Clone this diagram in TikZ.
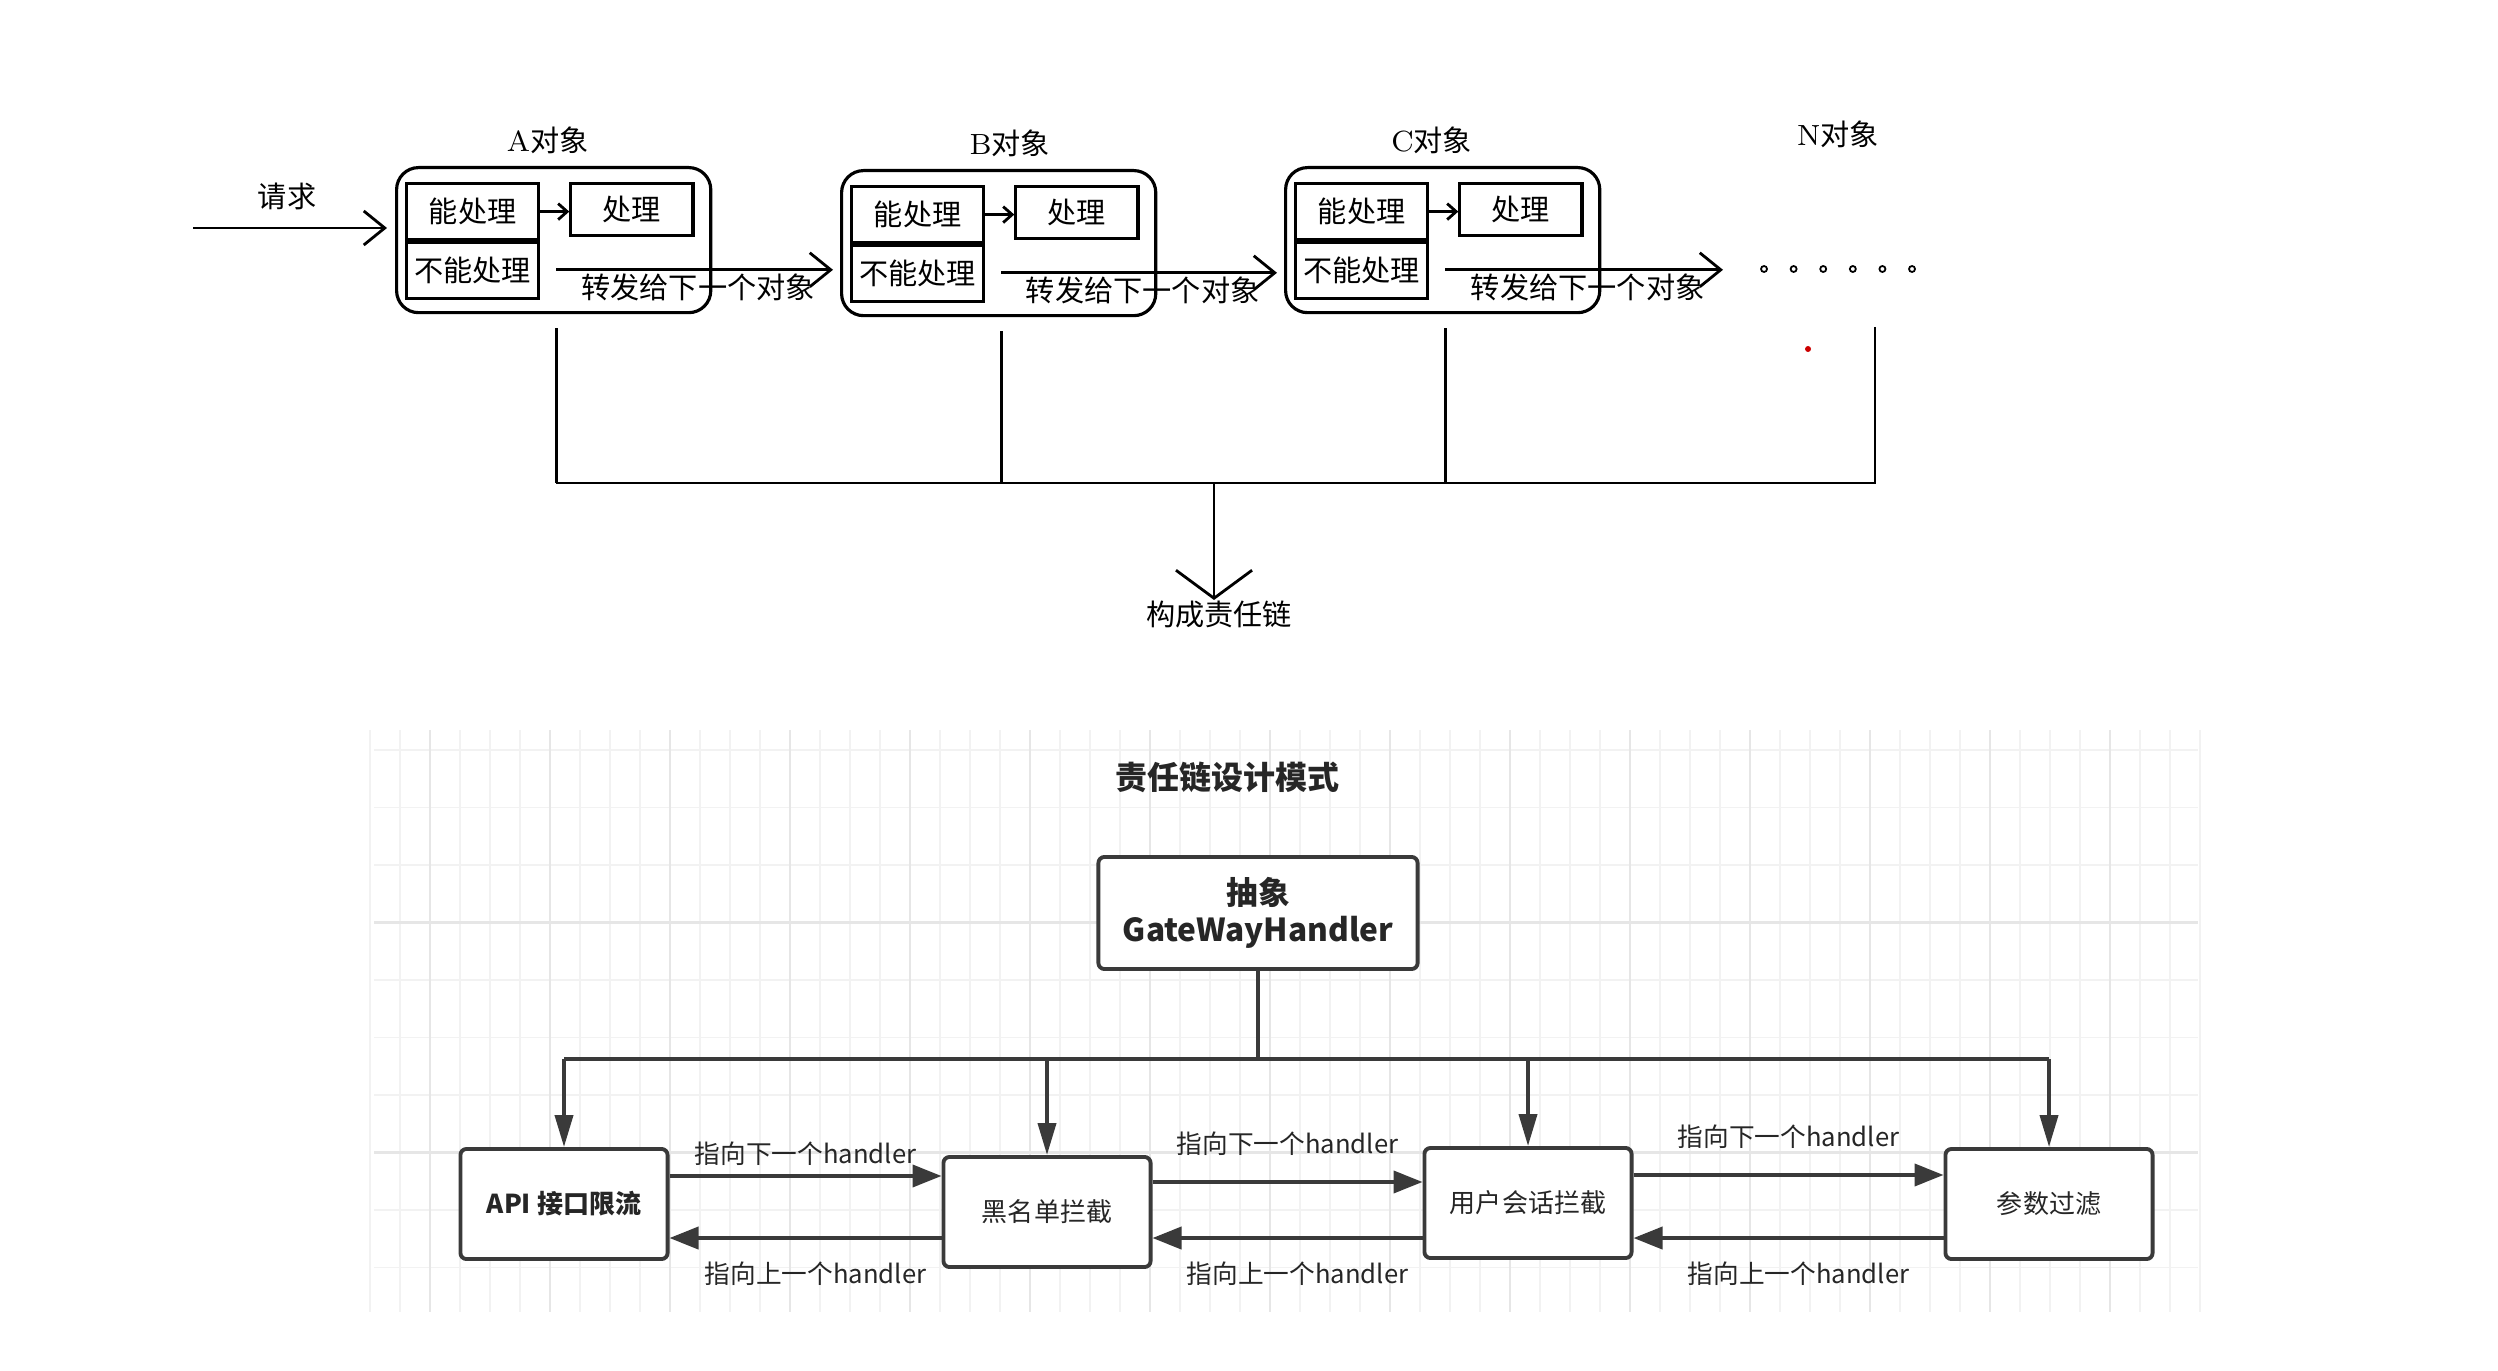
\documentclass[tikz,border=0pt]{standalone}
\usepackage{fontspec}
\newfontfamily\cjk{Noto Sans CJK SC}
\usetikzlibrary{arrows.meta,positioning}
\definecolor{lineGray}{HTML}{3A3A3A}
\definecolor{textGray}{HTML}{262626}
\definecolor{gridMinorColor}{HTML}{F2F2F2}
\definecolor{gridMajorColor}{HTML}{E6E6E6}
\newcommand{\topfont}{\cjk\fontsize{8.3}{10}\selectfont}
\newcommand{\botfont}{\cjk\fontsize{7.4}{9}\selectfont}
\newcommand{\linkfont}{\cjk\fontsize{7.3}{9}\selectfont}

\begin{document}
\begin{tikzpicture}
[x=0.01cm,y=-0.01cm,
  lineDecorate/.style={-,line width=0.8pt},
  arrowDecorate/.style={-{Straight Barb[length=0.21cm,width=0.34cm]},line width=0.8pt},
  smallArrow/.style={-{Straight Barb[length=0.09cm,width=0.16cm]},line width=0.8pt},
  bigArrow/.style={-{Straight Barb[length=0.28cm,width=0.76cm]},line width=0.8pt},
  objDecorate/.style={shape=rectangle,draw,line width=0.9pt,rounded corners=0.22cm,minimum width=3.14cm,minimum height=1.45cm,anchor=north west},
  cellDecorate/.style={shape=rectangle,draw,line width=0.9pt,minimum width=1.32cm,minimum height=0.56cm,inner sep=0pt,font=\topfont},
  doDecorate/.style={shape=rectangle,draw,line width=0.9pt,minimum width=1.22cm,minimum height=0.52cm,inner sep=0pt,font=\topfont},
  textDecorate/.style={inner sep=0pt,font=\topfont},
  gridMinor/.style={draw=gridMinorColor,line width=0.5pt},
  gridMajor/.style={draw=gridMajorColor,line width=0.6pt},
  handlerDecorate/.style={shape=rectangle,draw=lineGray,line width=1.1pt,rounded corners=0.06cm,fill=white,minimum width=2.07cm,minimum height=1.1cm,inner sep=0pt,text=textGray,font=\botfont},
  linkDecorate/.style={-,draw=lineGray,line width=1.1pt},
  linkArrow/.style={-{Triangle[length=0.29cm,width=0.22cm]},draw=lineGray,line width=1.1pt},
  dropArrow/.style={-{Triangle[length=0.32cm,width=0.18cm]},draw=lineGray,line width=1.1pt},
  linkLabel/.style={inner sep=0pt,text=textGray,font=\linkfont}]
\useasboundingbox (0,0) rectangle (2498,1370);
\fill[white] (0,0) rectangle (2498,1370);
%% top: objects of the chain
\node (req) at (287,196) [textDecorate] {请求};
\coordinate (reqStart) at (193,228);
\foreach \obj/\x/\y/\dx in {A/395/166/-0.06, B/840/169/0.11, C/1284/166/-0.11}
{
  \node (\obj) at (\x,\y) [objDecorate] {};
  \node (title\obj) at ([xshift=\dx cm,yshift=0.26cm]\obj.north) [textDecorate] {{\rmfamily\obj}对象};
  \node (can\obj) at ([xshift=0.1cm,yshift=-0.16cm]\obj.north west) [cellDecorate,anchor=north west] {能处理};
  \node (cannot\obj) at (can\obj.south) [cellDecorate,anchor=north] {不能处理};
  \node (do\obj) at ([xshift=0.29cm]can\obj.north east) [doDecorate,anchor=north west] {处理};
  \draw[smallArrow] (can\obj.east) -- (can\obj.east -| do\obj.west);
  \coordinate (tap\obj) at ([xshift=0.16cm,yshift=0.01cm]cannot\obj.east);
}
\draw[arrowDecorate,shorten >=0.08cm] (reqStart) -- (reqStart -| A.west);
\coordinate (N) at (1730,268);
\node (titleN) at (1838,134) [textDecorate] {{\rmfamily N}对象};
%% forward to the next object
\foreach \obj/\next in {A/B, B/C, C/N}
{
  \draw[arrowDecorate,shorten >=0.07cm] (tap\obj) -- (tap\obj -| \next.west)
    node[midway,below=0.03cm,textDecorate] {转发给下一个对象};
}
\foreach \i in {0,...,5}
  \draw[line width=0.5pt] (1764+\i*29.6,269) circle[radius=0.03cm];
\fill[red!80!black] (1808,349) circle[radius=0.03cm];
%% collect into the chain
\coordinate (bus) at (1214,483);
\coordinate (tapN) at (1875,327);
\foreach \obj in {A,B,C}
  \draw[lineDecorate] ([yshift=-0.14cm]tap\obj |- \obj.south) -- (tap\obj |- bus);
\draw[lineDecorate] (tapN) -- (tapN |- bus) -- (tapA |- bus);
\node (chain) at (1219,600) [textDecorate,anchor=north] {构成责任链};
\draw[bigArrow] (bus) -- (bus |- chain.north);
%% bottom: grid background
\foreach \x in {370,400,...,2200} \draw[gridMinor] (\x,730) -- (\x,1312);
\foreach \y in {750,807.5,...,1312} \draw[gridMinor] (374,\y) -- (2198,\y);
\foreach \x in {430,550,...,2200} \draw[gridMajor] (\x,730) -- (\x,1312);
\foreach \y in {922.5,1152.5} \draw[gridMajor] (374,\y) -- (2198,\y);
%% bottom: handlers
\node (design) at (1227,777) [inner sep=0pt,text=textGray,font=\cjk\fontsize{9.1}{11}\selectfont\bfseries] {责任链设计模式};
\node (abstract) at (1258,913) [handlerDecorate,minimum width=3.19cm,minimum height=1.12cm,align=center,font=\cjk\fontsize{9}{10.5}\selectfont\bfseries] {抽象\\GateWayHandler};
\foreach \name/\x/\y/\txt in {api/564/1204/{\bfseries API 接口限流}, black/1047/1212/黑名单拦截, session/1528/1203/用户会话拦截, param/2049/1204/参数过滤}
  \node (\name) at (\x,\y) [handlerDecorate] {\txt};
\coordinate (split) at (1258,1059);
\draw[linkDecorate] (abstract.south) -- (split);
\draw[linkDecorate] (api.north |- split) -- (param.north |- split);
\foreach \name in {api,black,session,param}
  \draw[dropArrow] (\name.north |- split) -- (\name.north);
\foreach \from/\to/\up/\gap/\down in {api/black/0.28/0.09/0.34, black/session/0.30/0.24/0.26, session/param/0.28/0.24/0.35}
{
  \draw[linkArrow] ([yshift=\up cm]\from.east) -- ([yshift=\up cm]\from.east -| \to.west)
    node[midway,above=\gap cm,linkLabel] {指向下一个handler};
  \draw[linkArrow] ([yshift=-\down cm]\from.east -| \to.west) -- ([yshift=-\down cm]\from.east)
    node[midway,below=0.22cm,xshift=0.1cm,linkLabel] {指向上一个handler};
}
\end{tikzpicture}
\end{document}
